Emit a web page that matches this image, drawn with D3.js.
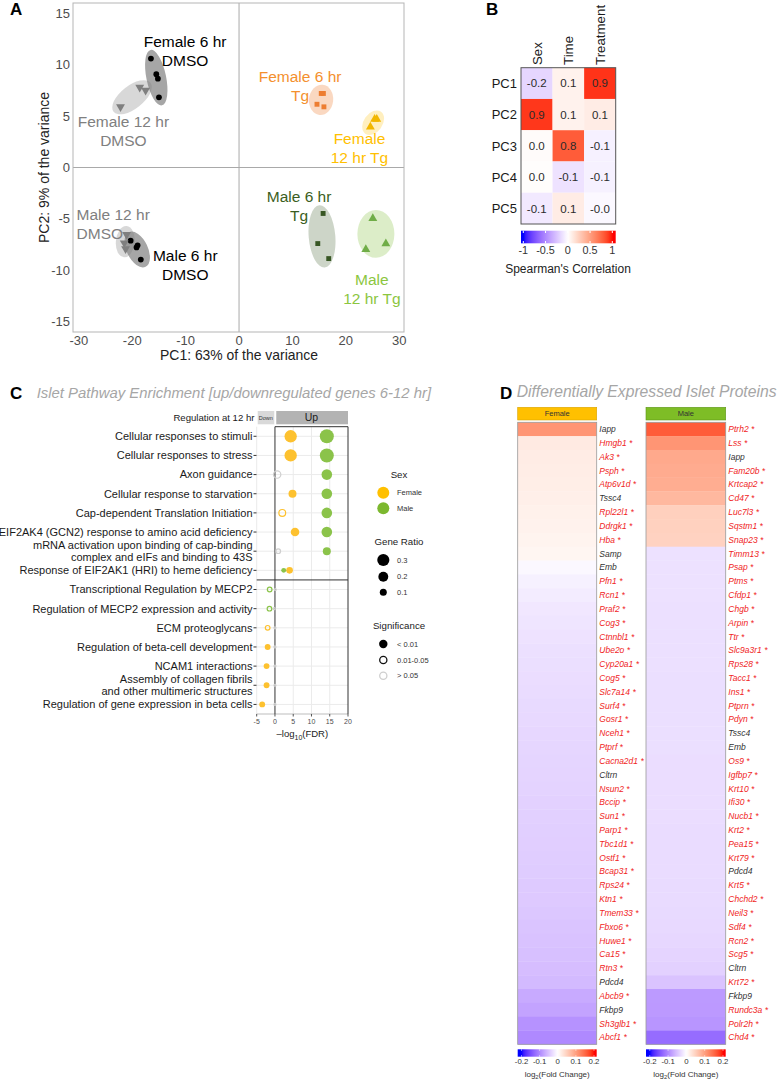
<!DOCTYPE html>
<html><head><meta charset="utf-8">
<script src="https://cdn.jsdelivr.net/npm/d3@7"></script>
<style>body{margin:0;background:#fff} svg{display:block;font-family:"Liberation Sans",Arial,sans-serif}</style>
</head><body><svg id="fig" width="779" height="1084"></svg>
<script>
// ================= DATA =================
// Panel A: PCA samples
const pcaGroups = ["Female 6 hr DMSO","Female 12 hr DMSO","Female 6 hr Tg","Female 12 hr Tg",
                   "Male 6 hr DMSO","Male 12 hr DMSO","Male 6 hr Tg","Male 12 hr Tg"];
const sampleGroup = [0,0,0,0, 1,1,1, 2,2,2,2, 3,3,3, 4,4,4,4, 5,5,5, 6,6,6, 7,7,7];
const samplePC1 = [-16.5,-15.5,-15.2,-15.0, -22.2,-18.6,-17.5, 15.4,15.8,14.6,15.9, 25.4,25.8,24.6,
                   -20.3,-19.0,-19.2,-18.4, -21.06,-21.5,-21.25, 15.75,14.75,16.8, 25.06,27.5,23.75];
const samplePC2 = [10.6,9.07,8.64,6.83, 5.9,7.8,7.5, 7.2,7.2,6.15,5.9, 4.7,4.7,3.95,
                   -7.12,-7.57,-7.77,-8.96, -6.53,-7.34,-7.92, -4.47,-7.4,-8.86, -4.95,-7.4,-7.96];
const pcaXTicks = [-30,-20,-10,0,10,20,30];
const pcaYTicks = [-15,-10,-5,0,5,10,15];
// group label annotations (data coords of first baseline)
const labelLines = [["Female 6 hr","DMSO"],["Female 12 hr","DMSO"],["Female 6 hr","Tg"],["Female","12 hr Tg"],
                    ["Male 6 hr","DMSO"],["Male 12 hr","DMSO"],["Male 6 hr","Tg"],["Male","12 hr Tg"]];
const labelPC1 = [-10.1,-21.66,11.44,22.56,-10.07,-30.43,11.25,24.88];
const labelPC2 = [11.75,3.9,8.32,2.3,-9.09,-5.1,-3.33,-11.42];

// Panel B: Spearman correlation
const corRows = ["PC1","PC2","PC3","PC4","PC5"];
const corCols = ["Sex","Time","Treatment"];
const corSex = [-0.17,0.92,0.02,0.01,-0.09];
const corTime = [0.07,0.07,0.8,-0.12,0.1];
const corTreatment = [0.93,0.1,-0.06,-0.06,-0.03];
const corTicks = [-1,-0.5,0,0.5,1];

// Panel C: pathway enrichment
const pathways = ["Cellular responses to stimuli","Cellular responses to stress","Axon guidance",
  "Cellular response to starvation","Cap-dependent Translation Initiation",
  "EIF2AK4 (GCN2) response to amino acid deficiency",
  "mRNA activation upon binding of cap-binding\ncomplex and eIFs and binding to 43S",
  "Response of EIF2AK1 (HRI) to heme deficiency","Transcriptional Regulation by MECP2",
  "Regulation of MECP2 expression and activity","ECM proteoglycans","Regulation of beta-cell development",
  "NCAM1 interactions","Assembly of collagen fibrils\nand other multimeric structures",
  "Regulation of gene expression in beta cells"];
const femaleLogFDR = [4.3,4.3,0.6,4.8,2.0,5.5,0.9,4.0,0.1,-0.2,-2.0,-2.0,-2.3,-2.3,-3.5];
const femaleRatio  = [0.31,0.31,0.15,0.13,0.13,0.15,0.07,0.09,0.02,0.02,0.07,0.07,0.07,0.07,0.07];
const femaleSig    = ["a","a","c","a","b","a","c","a","c","c","b","a","a","a","a"];
const maleLogFDR   = [14.2,14.2,14.2,14.2,14.2,14.2,14.2,2.4,-1.45,-1.5,0,0,0,0,0];
const maleRatio    = [0.40,0.40,0.23,0.23,0.23,0.23,0.13,0.05,0.07,0.07,0.02,0.02,0.02,0.02,0.02];
const maleSig      = ["a","a","a","a","a","a","a","a","b","b","c","c","c","c","c"];
const fdrTicks = [-5,0,5,10,15,20];
const ratioLegend = [0.3,0.2,0.1];
const sigLegend = ["< 0.01","0.01-0.05","> 0.05"];

// Panel D: differentially expressed proteins
const femaleGenes = ["Iapp","Hmgb1","Ak3","Psph","Atp6v1d","Tssc4","Rpl22l1","Ddrgk1","Hba","Samp","Emb","Pfn1",
  "Rcn1","Praf2","Cog3","Ctnnbl1","Ube2o","Cyp20a1","Cog5","Slc7a14","Surf4","Gosr1","Nceh1","Ptprf","Cacna2d1",
  "Cltrn","Nsun2","Bccip","Sun1","Parp1","Tbc1d1","Ostf1","Bcap31","Rps24","Ktn1","Tmem33","Fbxo6","Huwe1","Ca15",
  "Rtn3","Pdcd4","Abcb9","Fkbp9","Sh3glb1","Abcf1"];
const femaleFC = [0.11,0.022,0.02,0.019,0.018,0.017,0.015,0.014,0.012,0.010,-0.006,-0.012,-0.016,-0.02,-0.022,
  -0.024,-0.026,-0.027,-0.028,-0.029,-0.031,-0.032,-0.033,-0.034,-0.035,-0.036,-0.037,-0.038,-0.039,-0.040,
  -0.041,-0.042,-0.043,-0.044,-0.045,-0.047,-0.049,-0.051,-0.053,-0.055,-0.058,-0.072,-0.078,-0.092,-0.100];
const femaleStar = [0,1,1,1,1,0,1,1,1,0,0,1,1,1,1,1,1,1,1,1,1,1,1,1,1,0,1,1,1,1,1,1,1,1,1,1,1,1,1,1,0,1,0,1,1];
const maleGenes = ["Ptrh2","Lss","Iapp","Fam20b","Krtcap2","Cd47","Luc7l3","Sqstm1","Snap23","Timm13","Psap","Ptms",
  "Cfdp1","Chgb","Arpin","Ttr","Slc9a3r1","Rps28","Tacc1","Ins1","Ptprn","Pdyn","Tssc4","Emb","Os9","Igfbp7","Krt10",
  "Ifi30","Nucb1","Krt2","Pea15","Krt79","Pdcd4","Krt5","Chchd2","Neil3","Sdf4","Rcn2","Scg5","Cltrn","Krt72","Fkbp9",
  "Rundc3a","Polr2h","Chd4"];
const maleFC = [0.16,0.11,0.09,0.088,0.086,0.075,0.05,0.049,0.048,-0.025,-0.025,-0.025,-0.025,-0.026,-0.026,-0.026,
  -0.026,-0.026,-0.027,-0.027,-0.027,-0.027,-0.027,-0.027,-0.028,-0.028,-0.028,-0.028,-0.028,-0.029,-0.029,-0.029,
  -0.029,-0.030,-0.030,-0.031,-0.032,-0.033,-0.036,-0.038,-0.05,-0.085,-0.086,-0.09,-0.125];
const maleStar = [1,1,0,1,1,1,1,1,1,1,1,1,1,1,1,1,1,1,1,1,1,1,0,0,1,1,1,1,1,1,1,1,0,1,1,1,1,1,1,0,1,0,1,1,1];
const fcTicks = [-0.2,-0.1,0,0.1,0.2];

// ================= STYLE =================
const grpPoint = ["#000000","#7f7f7f","#ED7D31","#F2B700","#000000","#7f7f7f","#375623","#70AD47"];
const grpFill  = ["#000000","#7f7f7f","#ED7D31","#FFC000","#000000","#7f7f7f","#375623","#8BC34A"];
const grpFillOp= [0.35,0.3,0.3,0.25,0.35,0.3,0.25,0.3];
const grpText  = ["#000000","#808080","#F4902E","#FFC000","#000000","#808080","#3B5E22","#8CC63F"];
const grpShape = ["circle","down","square","up","circle","down","square","up"];
const femaleCol = "#FDC12F", maleCol = "#8BC34A";

const svg = d3.select("#fig");
svg.append("rect").attr("width",779).attr("height",1084).attr("fill","#fff");

function fit(sel, w){ const l = sel.node().getComputedTextLength(); const fs = parseFloat(sel.style("font-size")); sel.style("font-size",(fs*w/l)+"px"); }
function panelLetter(t,x,y){ svg.append("text").attr("x",x).attr("y",y).text(t).style("font-size","17px").style("font-weight","bold"); }

// ================= PANEL A =================
{
  const g = svg.append("g");
  const x = d3.scaleLinear().domain([-31.1,30.9]).range([73,404]);
  const y = d3.scaleLinear().domain([-16,16]).range([332,3]);
  g.append("clipPath").attr("id","clipA").append("rect").attr("x",73).attr("y",3).attr("width",331).attr("height",329);
  g.append("line").attr("x1",x(0)).attr("x2",x(0)).attr("y1",3).attr("y2",332).attr("stroke","#a9a9a9");
  g.append("line").attr("x1",73).attr("x2",404).attr("y1",y(0)).attr("y2",y(0)).attr("stroke","#a9a9a9");
  g.selectAll(".xt").data(pcaXTicks).join("text").attr("x",d=>x(d)).attr("y",345).attr("text-anchor","middle")
    .text(d=>d).style("font-size","13px").attr("fill","#4d4d4d");
  g.selectAll(".yt").data(pcaYTicks).join("text").attr("x",70).attr("y",d=>y(d)).attr("dy","0.35em").attr("text-anchor","end")
    .text(d=>d).style("font-size","13px").attr("fill","#4d4d4d");
  const xl = g.append("text").attr("x",239).attr("y",359.5).attr("text-anchor","middle").text("PC1: 63% of the variance").style("font-size","13.5px").attr("fill","#222");
  fit(xl,158);
  const yl = g.append("text").attr("transform","translate(49,167.5) rotate(-90)").attr("text-anchor","middle").text("PC2: 9% of the variance").style("font-size","13.5px").attr("fill","#222");
  fit(yl,151);
  const samples = sampleGroup.map((gi,i)=>({g:gi, px:x(samplePC1[i]), py:y(samplePC2[i])}));
  const ell = pcaGroups.map((name,gi)=>{
    const pts = samples.filter(s=>s.g===gi).map(s=>[s.px,s.py]);
    const mx=d3.mean(pts,p=>p[0]), my=d3.mean(pts,p=>p[1]);
    let sxx=0,syy=0,sxy=0; pts.forEach(([a,b])=>{sxx+=(a-mx)**2;syy+=(b-my)**2;sxy+=(a-mx)*(b-my);});
    const th=0.5*Math.atan2(2*sxy,sxx-syy), c=Math.cos(th), s=Math.sin(th);
    const u=pts.map(([a,b])=>(a-mx)*c+(b-my)*s), v=pts.map(([a,b])=>-(a-mx)*s+(b-my)*c);
    const cu=(d3.min(u)+d3.max(u))/2, cv=(d3.min(v)+d3.max(v))/2, pad=8.5;
    return {gi, cx:mx+cu*c-cv*s, cy:my+cu*s+cv*c, rx:(d3.max(u)-d3.min(u))/2+pad, ry:(d3.max(v)-d3.min(v))/2+pad, ang:th*180/Math.PI};
  });
  const ge = g.append("g").attr("clip-path","url(#clipA)");
  ge.selectAll("ellipse").data(ell).join("ellipse")
    .attr("transform",d=>`translate(${d.cx},${d.cy}) rotate(${d.ang})`).attr("rx",d=>d.rx).attr("ry",d=>d.ry)
    .attr("fill",d=>grpFill[d.gi]).attr("fill-opacity",d=>grpFillOp[d.gi]);
  const sym = {circle:d3.symbol().type(d3.symbolCircle).size(26)(), square:d3.symbol().type(d3.symbolSquare).size(24)(),
               up:d3.symbol().type(d3.symbolTriangle).size(34)(), down:d3.symbol().type(d3.symbolTriangle).size(34)()};
  g.selectAll(".pt").data(samples).join("path")
    .attr("transform",d=>`translate(${d.px},${d.py})`+(grpShape[d.g]==="down"?" rotate(180)":""))
    .attr("d",d=>sym[grpShape[d.g]]).attr("fill",d=>grpPoint[d.g]);
  pcaGroups.forEach((name,gi)=>{
    const t = g.append("text").attr("x",x(labelPC1[gi])).attr("y",y(labelPC2[gi]))
      .attr("text-anchor",gi===5?"start":"middle").attr("fill",grpText[gi]).style("font-size","15.5px");
    labelLines[gi].forEach((ln,k)=>t.append("tspan").attr("x",x(labelPC1[gi])).attr("dy",k?19:0).text(ln));
  });
  g.append("rect").attr("x",73).attr("y",3).attr("width",331).attr("height",329).attr("fill","none").attr("stroke","#b5b5b5");
  panelLetter("A",10,15);
}

// ================= PANEL B =================
{
  const g = svg.append("g");
  const x = d3.scaleBand().domain(corCols).range([521,615.7]);
  const y = d3.scaleBand().domain(corRows).range([67.7,224]);
  const col = d3.scaleLinear().domain([-1,0,1]).range(["#0000ff","#ffffff","#ff0000"]).interpolate(d3.interpolateLab).clamp(true);
  const colsVals = [corSex,corTime,corTreatment];
  const cells = [];
  corRows.forEach((r,i)=>corCols.forEach((c,j)=>cells.push({r,c,v:colsVals[j][i]})));
  g.selectAll(".cell").data(cells).join("rect").attr("x",d=>x(d.c)).attr("y",d=>y(d.r))
    .attr("width",x.bandwidth()).attr("height",y.bandwidth()).attr("fill",d=>col(d.v));
  g.selectAll(".ct").data(cells).join("text").attr("x",d=>x(d.c)+x.bandwidth()/2).attr("y",d=>y(d.r)+y.bandwidth()/2)
    .attr("dy","0.36em").attr("text-anchor","middle").text(d=>d.v.toFixed(1)).style("font-size","11.5px").attr("fill","#2b2b2b");
  g.append("rect").attr("x",521).attr("y",67.7).attr("width",94.7).attr("height",156.3).attr("fill","none").attr("stroke","#555");
  g.selectAll(".rl").data(corRows).join("text").attr("x",517).attr("y",d=>y(d)+y.bandwidth()/2).attr("dy","0.36em")
    .attr("text-anchor","end").text(d=>d).style("font-size","13px").attr("fill","#1a1a1a");
  g.selectAll(".cl").data(corCols).join("text")
    .attr("transform",d=>`translate(${x(d)+x.bandwidth()/2},65) rotate(-90)`).attr("dy","0.36em")
    .text(d=>d).style("font-size","13.3px").attr("fill","#1a1a1a");
  // colorbar
  const cb = d3.scaleLinear().domain([-1,1]).range([523.3,612.3]);
  const grad = svg.append("defs").append("linearGradient").attr("id","gB").attr("x1","0%").attr("x2","100%");
  d3.range(0,41).forEach(i=>{ const px=521+i/40*94.7; grad.append("stop").attr("offset",(i/40*100)+"%").attr("stop-color",col(cb.invert(px))); });
  g.append("rect").attr("x",521).attr("y",230.7).attr("width",94.7).attr("height",12.6).attr("fill","url(#gB)");
  g.selectAll(".cbt").data(corTicks).join("g").each(function(d){
    d3.select(this).append("line").attr("x1",cb(d)).attr("x2",cb(d)).attr("y1",230.7).attr("y2",233).attr("stroke","#fff");
    d3.select(this).append("line").attr("x1",cb(d)).attr("x2",cb(d)).attr("y1",241).attr("y2",243.3).attr("stroke","#fff");
  });
  g.selectAll(".cbl").data(corTicks).join("text").attr("x",d=>cb(d)).attr("y",253.5).attr("text-anchor","middle")
    .text(d=>d).style("font-size","10.8px").attr("fill","#333");
  g.append("text").attr("x",568).attr("y",272.7).attr("text-anchor","middle").text("Spearman's Correlation").style("font-size","12px").attr("fill","#222");
  panelLetter("B",486,15);
}

// ================= PANEL C =================
{
  const g = svg.append("g");
  const x = d3.scaleLinear().domain([-5,20]).range([256.7,348]);
  const y = d3.scaleBand().domain(d3.range(pathways.length)).range([426.7,714]);
  const r = d3.scaleSqrt().domain([0,0.4]).range([0,7]);
  const top=426.7, bot=714, yc=i=>y(i)+y.bandwidth()/2;
  const ttl = svg.append("text").attr("x",36.7).attr("y",398).text("Islet Pathway Enrichment [up/downregulated genes 6-12 hr]")
    .style("font-size","16px").style("font-style","italic").attr("fill","#a6a6a6");
  fit(ttl,395);
  panelLetter("C",10,398.5);
  // strip
  g.append("rect").attr("x",x(-5)+1).attr("y",411).attr("width",x(0)-x(-5)-1.7).attr("height",13.3).attr("fill","#d9d9d9");
  g.append("rect").attr("x",x(0)+1.3).attr("y",411).attr("width",x(20)-x(0)-1.3).attr("height",13.3).attr("fill","#b3b3b3");
  g.append("text").attr("x",(x(-5)+x(0))/2).attr("y",417.7).attr("dy","0.35em").attr("text-anchor","middle").text("Down").style("font-size","5.5px").attr("fill","#333");
  g.append("text").attr("x",(x(0)+x(20))/2).attr("y",417.7).attr("dy","0.36em").attr("text-anchor","middle").text("Up").style("font-size","10.5px").attr("fill","#1a1a1a");
  g.append("text").attr("x",254.5).attr("y",420.7).attr("text-anchor","end").text("Regulation at 12 hr").style("font-size","9.6px").attr("fill","#1a1a1a");
  // grid
  g.selectAll(".hg").data(pathways.map((p,i)=>i)).join("line").attr("x1",x(-5)).attr("x2",x(20)).attr("y1",yc).attr("y2",yc).attr("stroke","#ebebeb");
  g.selectAll(".vg").data([-5,5,10,15]).join("line").attr("x1",d=>x(d)).attr("x2",d=>x(d)).attr("y1",top).attr("y2",bot).attr("stroke","#ebebeb");
  // frame
  g.append("line").attr("x1",x(-5)).attr("x2",x(20)).attr("y1",bot).attr("y2",bot).attr("stroke","#bdbdbd");
  [0,20].forEach(v=>g.append("line").attr("x1",x(v)).attr("x2",x(v)).attr("y1",top).attr("y2",bot).attr("stroke","#333"));
  g.append("line").attr("x1",x(0)).attr("x2",x(20)).attr("y1",top).attr("y2",top).attr("stroke","#333");
  g.append("line").attr("x1",x(-5)).attr("x2",x(20)).attr("y1",y(8)).attr("y2",y(8)).attr("stroke","#333");
  // y labels & ticks
  g.selectAll(".yt").data(pathways.map((p,i)=>i)).join("line").attr("x1",253.5).attr("x2",256.5).attr("y1",yc).attr("y2",yc).attr("stroke","#333");
  pathways.forEach((p,i)=>{
    const lines=p.split("\n");
    const t=g.append("text").attr("text-anchor","end").style("font-size","11px").attr("fill","#1a1a1a");
    if(lines.length===1) t.attr("x",252.5).attr("y",yc(i)).attr("dy","0.35em").text(p);
    else lines.forEach((ln,k)=>t.append("tspan").attr("x",252.5).attr("y",yc(i)-2.4+k*12.5).text(ln));
  });
  // x axis
  g.selectAll(".xtk").data(fdrTicks).join("line").attr("x1",d=>x(d)).attr("x2",d=>x(d)).attr("y1",bot).attr("y2",bot+2.5).attr("stroke","#555");
  g.selectAll(".xtl").data(fdrTicks).join("text").attr("x",d=>x(d)).attr("y",723.5).attr("text-anchor","middle").text(d=>d).style("font-size","7px").attr("fill","#4d4d4d");
  const xt = g.append("text").attr("x",x(7.5)).attr("y",737).attr("text-anchor","middle").style("font-size","9.5px").attr("fill","#222");
  xt.append("tspan").text("\u2013log");
  xt.append("tspan").attr("dy",2.5).style("font-size","7px").text("10");
  xt.append("tspan").attr("dy",-2.5).text("(FDR)");
  // points
  const sigStroke = (s,c)=> s==="c" ? "#cfcfcf" : c;
  const pts = [];
  pathways.forEach((p,i)=>{
    pts.push({i,v:femaleLogFDR[i],ratio:femaleRatio[i],sig:femaleSig[i],c:femaleCol});
    pts.push({i,v:maleLogFDR[i],ratio:maleRatio[i],sig:maleSig[i],c:maleCol});
  });
  g.selectAll(".pt").data(pts).join("circle").attr("cx",d=>x(d.v)).attr("cy",d=>yc(d.i))
    .attr("r",d=>d.sig==="a"?r(d.ratio):Math.max(r(d.ratio)-0.6,1))
    .attr("fill",d=>d.sig==="a"?d.c:"none").attr("stroke",d=>d.sig==="a"?"none":sigStroke(d.sig,d.c)).attr("stroke-width",1.2);
  // legends
  const L = svg.append("g");
  const lt = (t,yy)=>L.append("text").attr("x",399).attr("y",yy).attr("text-anchor","middle").text(t).style("font-size","9.7px").attr("fill","#222");
  const ll = (t,yy)=>L.append("text").attr("x",397).attr("y",yy).attr("dy","0.35em").text(t).style("font-size","7.5px").attr("fill","#333");
  lt("Sex",478.3);
  [["Female","#FFC000",492.7],["Male","#7CB82F",508.3]].forEach(([t,c,yy])=>{L.append("circle").attr("cx",383.3).attr("cy",yy).attr("r",6).attr("fill",c); ll(t,yy);});
  lt("Gene Ratio",545);
  ratioLegend.forEach((v,k)=>{const yy=[560,576.7,592.3][k]; L.append("circle").attr("cx",383.3).attr("cy",yy).attr("r",r(v)).attr("fill","#000"); ll(v,yy);});
  lt("Significance",629.3);
  sigLegend.forEach((s,k)=>{const yy=[644,660,675.7][k];
    L.append("circle").attr("cx",383.3).attr("cy",yy).attr("r",k?3.6:4.2).attr("fill",k?"none":"#000")
      .attr("stroke",k===0?"none":(k===1?"#111":"#cfcfcf")).attr("stroke-width",1.3); ll(s,yy);});
}

// ================= PANEL D =================
{
  const g = svg.append("g");
  const ttl = svg.append("text").attr("x",516.7).attr("y",396.7).text("Differentially Expressed Islet Proteins")
    .style("font-size","15px").style("font-style","italic").attr("fill","#a6a6a6");
  fit(ttl,260);
  panelLetter("D",500,398.5);
  const col = d3.scaleLinear().domain([-0.2,0,0.2]).range(["#0000ff","#ffffff","#ff0000"]).interpolate(d3.interpolateLab).clamp(true);
  const y = d3.scaleBand().domain(d3.range(45)).range([422.3,1044.3]);
  const cols = [
    {name:"Female",x0:517.7,x1:596.7,genes:femaleGenes,fc:femaleFC,star:femaleStar,hdr:"#FFC000",hdrS:"#d9a300"},
    {name:"Male",x0:646,x1:725.7,genes:maleGenes,fc:maleFC,star:maleStar,hdr:"#7EBD26",hdrS:"#5f9619"}];
  const defs = svg.append("defs");
  cols.forEach((c,ci)=>{
    g.append("rect").attr("x",c.x0).attr("y",407.3).attr("width",c.x1-c.x0).attr("height",12.7).attr("fill",c.hdr).attr("stroke",c.hdrS).attr("stroke-width",0.6);
    g.append("text").attr("x",(c.x0+c.x1)/2).attr("y",413.7).attr("dy","0.35em").attr("text-anchor","middle").text(c.name).style("font-size","7.5px").attr("fill","#333");
    g.selectAll(".c"+ci).data(c.fc).join("rect").attr("x",c.x0).attr("y",(d,i)=>y(i)).attr("width",c.x1-c.x0)
      .attr("height",y.bandwidth()+0.3).attr("fill",d=>col(d));
    g.append("rect").attr("x",c.x0).attr("y",422.3).attr("width",c.x1-c.x0).attr("height",622).attr("fill","none").attr("stroke","#9a9a9a").attr("stroke-width",0.8);
    g.selectAll(".l"+ci).data(c.genes).join("text").attr("x",c.x1+2.6).attr("y",(d,i)=>y(i)+y.bandwidth()/2).attr("dy","0.35em")
      .text((d,i)=>d+(c.star[i]?" *":"")).style("font-size","8.5px").style("font-style","italic")
      .attr("fill",(d,i)=>c.star[i]?"#f02424":"#333");
    // colorbar
    const cb = d3.scaleLinear().domain([-0.2,0.2]).range([c.x0+3.8,c.x1-2.7]);
    const gr = defs.append("linearGradient").attr("id","gD"+ci).attr("x1","0%").attr("x2","100%");
    d3.range(0,41).forEach(i=>{const px=c.x0+i/40*(c.x1-c.x0); gr.append("stop").attr("offset",(i/40*100)+"%").attr("stop-color",col(cb.invert(px)));});
    g.append("rect").attr("x",c.x0).attr("y",1049.3).attr("width",c.x1-c.x0).attr("height",7.4).attr("fill",`url(#gD${ci})`);
    fcTicks.forEach(t=>{
      g.append("line").attr("x1",cb(t)).attr("x2",cb(t)).attr("y1",1049.3).attr("y2",1050.8).attr("stroke","#fff").attr("stroke-width",0.6);
      g.append("line").attr("x1",cb(t)).attr("x2",cb(t)).attr("y1",1055.2).attr("y2",1056.7).attr("stroke","#fff").attr("stroke-width",0.6);
    });
    g.selectAll(".t"+ci).data(fcTicks).join("text").attr("x",d=>cb(d)).attr("y",1064.3).attr("text-anchor","middle")
      .text(d=>d).style("font-size","7.8px").attr("fill","#333");
    const lab = g.append("text").attr("x",(c.x0+c.x1)/2).attr("y",1076.5).attr("text-anchor","middle").style("font-size","8px").attr("fill","#333");
    lab.append("tspan").text("log"); lab.append("tspan").attr("dy",2).style("font-size","5.8px").text("2");
    lab.append("tspan").attr("dy",-2).text("(Fold Change)");
  });
}
</script></body></html>
